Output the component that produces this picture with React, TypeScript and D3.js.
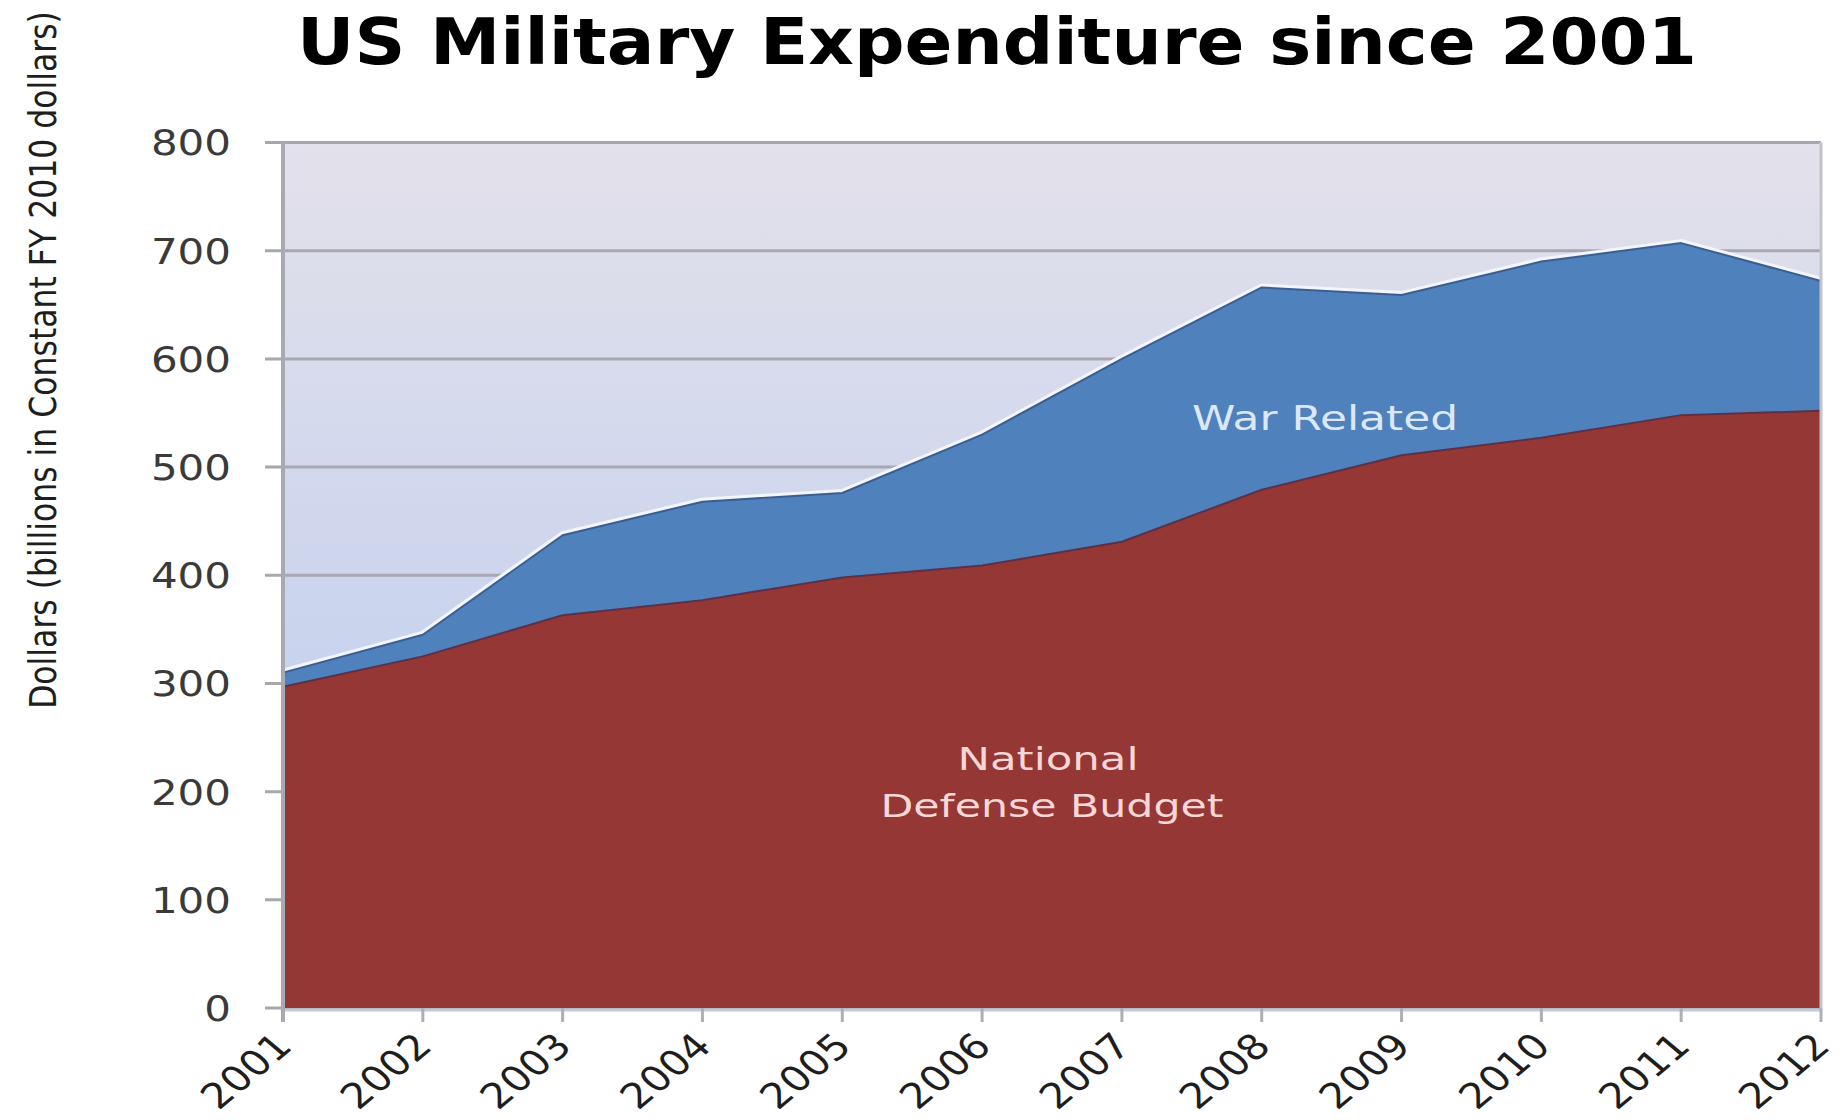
import React, { useEffect } from "react";
import * as d3 from "d3";

const years = [2001, 2002, 2003, 2004, 2005, 2006, 2007, 2008, 2009, 2010, 2011, 2012];
const defenseBudget = [297, 325, 363, 377, 398, 409, 431, 479, 511, 527, 548, 552];
const warRelated = [13, 20, 74, 91, 78, 121, 169, 187, 148, 163, 159, 120];
const yTicks = [0, 100, 200, 300, 400, 500, 600, 700, 800];
const xTickLabels = years.map(String);

const W = 1842;
const H = 1120;
const left = 283;
const right = 1821;
const top = 142.5;
const bottom = 1008;

export default function App() {
  useEffect(() => {
    document.body.style.margin = "0";
    document.body.style.overflow = "hidden";
  }, []);

  const x = d3.scaleLinear().domain([2001, 2012]).range([left, right]);
  const y = d3.scaleLinear().domain([0, 800]).range([bottom, top]);

  const rows = years.map((yr, i) => ({ year: yr, defense: defenseBudget[i], war: warRelated[i] }));
  const series = d3.stack<any>().keys(["defense", "war"])(rows);

  const area = d3
    .area<any>()
    .x((d) => x(d.data.year))
    .y0((d) => y(d[0]))
    .y1((d) => y(d[1]));
  const topLine = d3
    .line<any>()
    .x((d) => x(d.data.year))
    .y((d) => y(d[1]));

  const fills = ["#953735", "#4f81bd"];
  const edgeColors = ["#5e3048", "#3b5e90"];

  return (
    <svg width={W} height={H} style={{ position: "absolute", left: 0, top: 0, background: "#fff" }}>
      <defs>
        <linearGradient id="bg" x1="0" y1="0" x2="0" y2="1">
          <stop offset="0%" stopColor="#e3e1eb" />
          <stop offset="100%" stopColor="#b7caef" />
        </linearGradient>
      </defs>

      {/* Title */}
      <text
        x={997}
        y={64}
        textAnchor="middle"
        fontFamily="DejaVu Sans"
        fontWeight="bold"
        fontSize={64}
        textLength={1400}
        lengthAdjust="spacingAndGlyphs"
        fill="#000"
      >
        US Military Expenditure since 2001
      </text>

      {/* Y axis title */}
      <text
        transform={`translate(56, 360) rotate(-90) scale(1, 1.05)`}
        textAnchor="middle"
        fontFamily="DejaVu Sans Condensed, DejaVu Sans"
        fontSize={35}
        fill="#1e1e1e"
      >
        Dollars (billions in Constant FY 2010 dollars)
      </text>

      {/* Plot background */}
      <rect x={left} y={top} width={right - left} height={bottom - top} fill="url(#bg)" />

      {/* Gridlines + y ticks */}
      {yTicks.map((t) => (
        <line key={"g" + t} x1={265} x2={right} y1={y(t)} y2={y(t)} stroke="#a7a7b0" strokeWidth={3} />
      ))}

      {/* Glow along top */}
      <path d={topLine(series[1] as any) || ""} fill="none" stroke="#f3f5fc" strokeWidth={8} strokeLinejoin="round" />

      {/* Areas */}
      {series.map((s, i) => (
        <path key={"a" + i} d={area(s as any) || ""} fill={fills[i]} />
      ))}
      {series.map((s, i) => (
        <path
          key={"l" + i}
          d={topLine(s as any) || ""}
          fill="none"
          stroke={edgeColors[i]}
          strokeWidth={2}
          strokeLinejoin="round"
        />
      ))}

      {/* Right border */}
      <line x1={right} x2={right} y1={top} y2={bottom} stroke="#c3c3cc" strokeWidth={3} />

      {/* Bottom axis */}
      <line x1={left} x2={right + 1} y1={bottom + 2} y2={bottom + 2} stroke="#c6c9dc" strokeWidth={3} />
      {years.map((yr) => (
        <line key={"xt" + yr} x1={x(yr)} x2={x(yr)} y1={bottom} y2={bottom + 14} stroke="#aeaeb6" strokeWidth={3} />
      ))}

      {/* Left axis */}
      <line x1={left} x2={left} y1={top - 1} y2={bottom + 14} stroke="#a9a9b2" strokeWidth={4} />

      {/* Y tick labels */}
      {yTicks.map((t) => (
        <text
          key={"yl" + t}
          x={231}
          y={y(t)}
          dy="0.36em"
          textAnchor="end"
          fontFamily="DejaVu Sans"
          fontSize={36}
          textLength={26.7 * String(t).length}
          lengthAdjust="spacingAndGlyphs"
          fill="#3a3a3a"
        >
          {t}
        </text>
      ))}

      {/* X tick labels */}
      {years.map((yr, i) => (
        <text
          key={"xl" + yr}
          transform={`translate(${x(yr) + 11}, 1048) scale(1.2, 1) rotate(-45)`}
          textAnchor="end"
          fontFamily="DejaVu Sans"
          fontSize={35}
          fill="#1e1e1e"
        >
          {xTickLabels[i]}
        </text>
      ))}

      {/* Series labels */}
      <text
        x={1325}
        y={430}
        textAnchor="middle"
        fontFamily="DejaVu Sans"
        fontSize={34}
        textLength={266}
        lengthAdjust="spacingAndGlyphs"
        fill="#dce8f8"
      >
        War Related
      </text>
      <text
        x={1048}
        y={770}
        textAnchor="middle"
        fontFamily="DejaVu Sans"
        fontSize={32}
        textLength={181}
        lengthAdjust="spacingAndGlyphs"
        fill="#f6d6d6"
      >
        National
      </text>
      <text
        x={1052}
        y={817}
        textAnchor="middle"
        fontFamily="DejaVu Sans"
        fontSize={32}
        textLength={343}
        lengthAdjust="spacingAndGlyphs"
        fill="#f6d6d6"
      >
        Defense Budget
      </text>
    </svg>
  );
}
